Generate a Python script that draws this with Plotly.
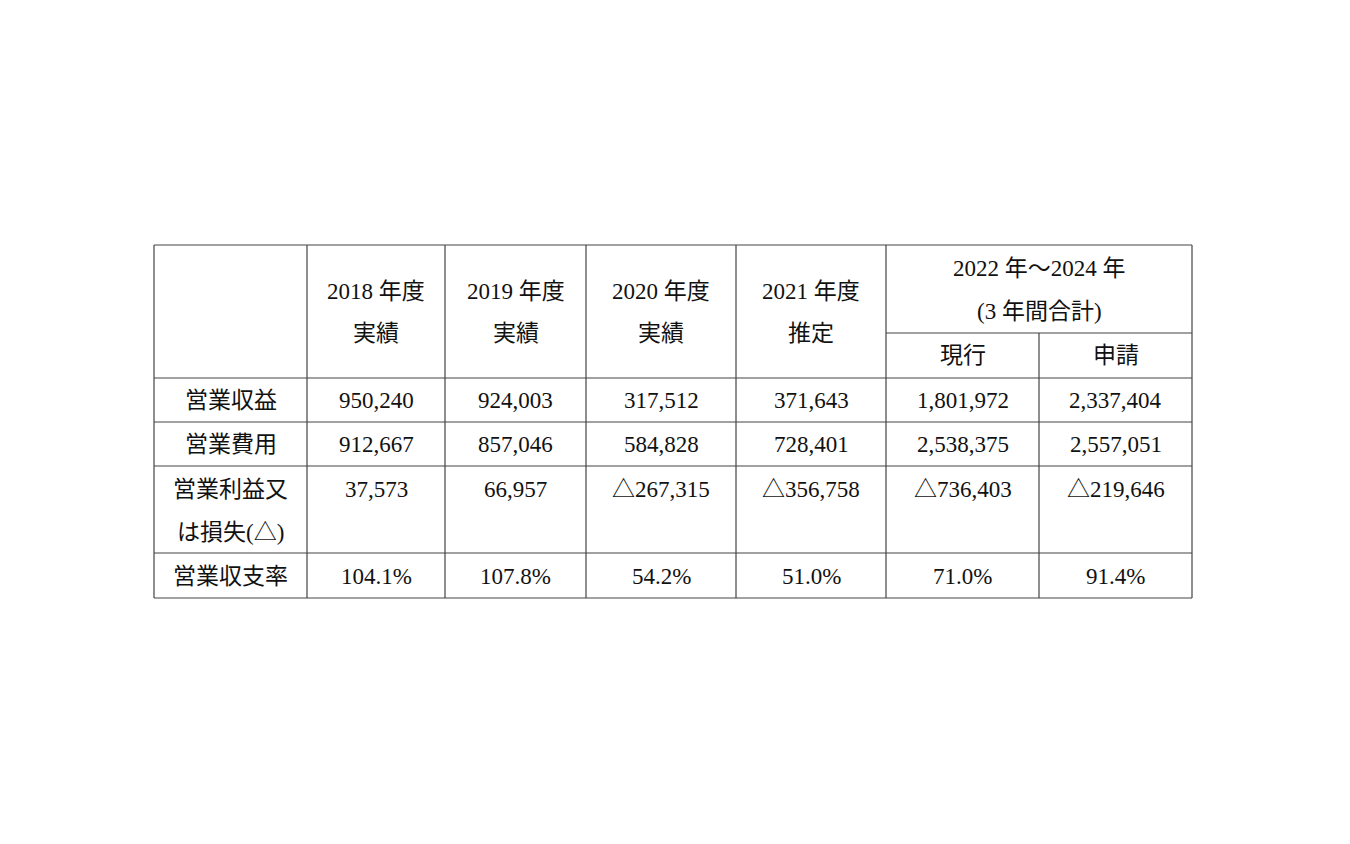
import plotly.graph_objects as go

row_labels = [["営業収益"], ["営業費用"], ["営業利益又", "は損失(△)"], ["営業収支率"]]
col_headers = [["2018 年度", "実績"], ["2019 年度", "実績"], ["2020 年度", "実績"], ["2021 年度", "推定"]]
group_header = ["2022 年～2024 年", "(3 年間合計)"]
sub_headers = ["現行", "申請"]
values = [
    ["950,240", "924,003", "317,512", "371,643", "1,801,972", "2,337,404"],
    ["912,667", "857,046", "584,828", "728,401", "2,538,375", "2,557,051"],
    ["37,573", "66,957", "△267,315", "△356,758", "△736,403", "△219,646"],
    ["104.1%", "107.8%", "54.2%", "51.0%", "71.0%", "91.4%"],
]

xs = [154, 307, 445, 586, 736, 886, 1039, 1192]
ys = [245, 378, 422, 466, 553, 598]
y_sub = 333

fig = go.Figure()
shapes = []
line = dict(color="#444", width=1.2)
def seg(x0, y0, x1, y1):
    shapes.append(dict(type="line", x0=x0, y0=y0, x1=x1, y1=y1, xref="x", yref="y", line=line))
for y in ys:
    seg(xs[0], y, xs[-1], y)
seg(xs[5], y_sub, xs[-1], y_sub)
for i, x in enumerate(xs):
    if i == 6:
        seg(x, y_sub, x, ys[-1])
    else:
        seg(x, ys[0], x, ys[-1])

font = dict(family="Liberation Serif, Noto Sans CJK JP", size=23, color="#111")
ann = []
def txt(x, y, t):
    ann.append(dict(x=x, y=y, text=t, showarrow=False, xref="x", yref="y",
                    font=font, align="center", yanchor="middle"))
cx = [(xs[i] + xs[i + 1]) / 2 for i in range(7)]
for i, h in enumerate(col_headers):
    txt(cx[i + 1], 291, h[0])
    txt(cx[i + 1], 333, h[1])
gx = (xs[5] + xs[7]) / 2
txt(gx, 268, group_header[0])
txt(gx, 311, group_header[1])
txt(cx[5], 355, sub_headers[0])
txt(cx[6], 355, sub_headers[1])
row_y = [400, 444, 489, 576]
for r, lab in enumerate(row_labels):
    for k, part in enumerate(lab):
        txt(cx[0], row_y[r] + 43 * k, part)
    for c, v in enumerate(values[r]):
        txt(cx[c + 1], row_y[r], v)

fig.update_layout(shapes=shapes, annotations=ann, width=1350, height=844,
                  margin=dict(l=0, r=0, t=0, b=0), plot_bgcolor="white", paper_bgcolor="white",
                  xaxis=dict(range=[8, 1358], visible=False),
                  yaxis=dict(range=[852, 8], visible=False), showlegend=False)
fig.write_html("out.html")
